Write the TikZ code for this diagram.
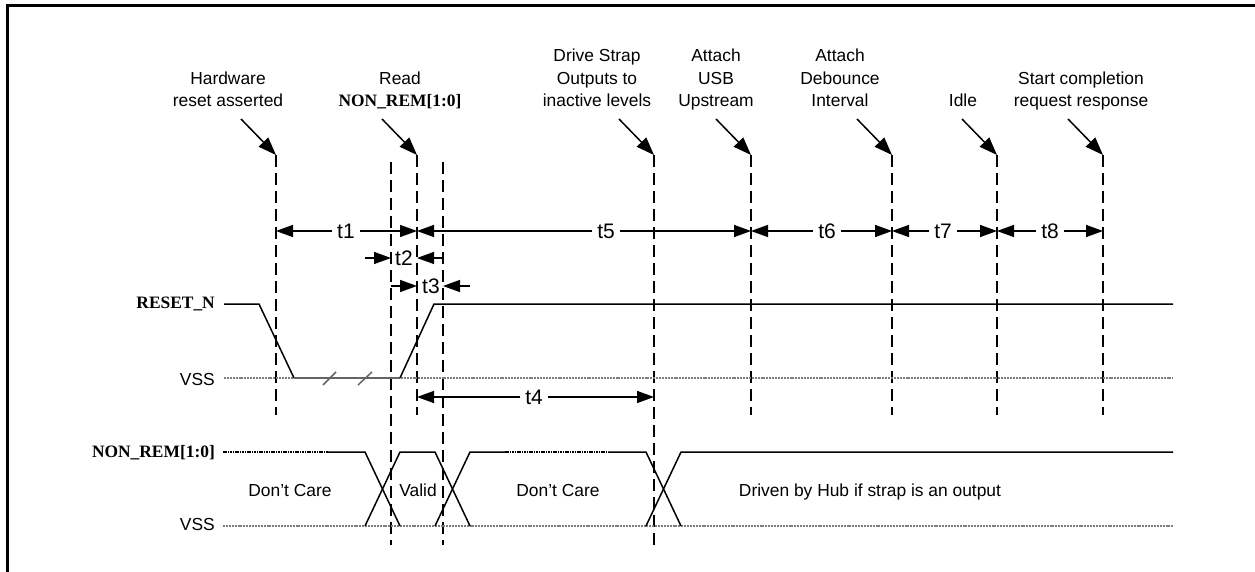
\documentclass[tikz,border=0pt]{standalone}
\usepackage{fontspec}
\setmainfont{Liberation Sans}
\newfontfamily\tnr{Liberation Serif}
\usetikzlibrary{arrows.meta,calc}
\definecolor{vssgray}{RGB}{125,125,125}
\definecolor{lowgray}{RGB}{100,100,100}
\begin{document}
\begin{tikzpicture}[x=1pt,y=-1pt,
  font=\fontsize{17.4}{22.5}\selectfont,
  frame/.style={line width=3pt},
  vdash/.style={line width=2.6pt,dash pattern=on 12pt off 6pt},
  sig/.style={line width=1.5pt},
  vssline/.style={line width=2.6pt,vssgray,dash pattern=on 2pt off 0.9pt},
  dcline/.style={line width=1.9pt,dash pattern=on 1.6pt off 0.8pt},
  tarr/.style={line width=1.5pt,-{Triangle[length=17pt,width=12pt]}},
  callout/.style={line width=1.5pt,-{Triangle[length=18pt,width=13pt]}},
  lbl/.style={align=center,inner sep=0pt,anchor=base},
  tlab/.style={font=\fontsize{21}{22}\selectfont,inner ysep=0pt,inner xsep=5pt},
  sname/.style={font=\tnr\bfseries\fontsize{17.4}{20}\selectfont,anchor=base east,inner sep=0pt},
  vname/.style={anchor=base east,inner sep=0pt},
  wlab/.style={anchor=base,inner sep=0pt},
  brk/.style={line width=1.5pt,lowgray}
]
\useasboundingbox (0,0) rectangle (1255,572);
% frame
\coordinate (fr1) at (1255,6);
\coordinate (fr2) at (7.5,6);
\coordinate (fr3) at (7.5,572);
\draw[frame] (fr1) -- (fr2) -- (fr3);

% vertical dashed event lines
\coordinate (L1t) at (276,155); \coordinate (L1b) at (276,415);
\coordinate (L2t) at (391,162); \coordinate (L2b) at (391,545);
\coordinate (L3t) at (417,155); \coordinate (L3b) at (417,415);
\coordinate (L4t) at (443,162); \coordinate (L4b) at (443,545);
\coordinate (L5t) at (654,155); \coordinate (L5b) at (654,545);
\coordinate (L6t) at (751,155); \coordinate (L6b) at (751,415);
\coordinate (L7t) at (892,155); \coordinate (L7b) at (892,415);
\coordinate (L8t) at (997,155); \coordinate (L8b) at (997,415);
\coordinate (L9t) at (1103,155); \coordinate (L9b) at (1103,415);
\foreach \i in {1,...,9} {\draw[vdash] (L\i t) -- (L\i b);}

% top labels (anchor = baseline of last line)
\node[lbl] (lab1) at (228,107) {Hardware\\reset asserted};
\node[lbl] (lab3) at (400,107) {Read\\{\tnr\bfseries NON\_REM[1:0]}};
\node[lbl] (lab5) at (597,107) {Drive Strap\\Outputs to\\inactive levels};
\node[lbl] (lab6) at (716,107) {Attach\\USB\\Upstream};
\node[lbl] (lab7) at (840,107) {Attach\\Debounce\\Interval};
\node[lbl] (lab8) at (963,107) {Idle};
\node[lbl] (lab9) at (1081,107) {Start completion\\request response};

% callout arrows
\foreach \i in {1,3,5,6,7,8,9} {
  \coordinate (c\i) at ($(L\i t)+(-35,-36)$);
  \draw[callout] (c\i) -- (L\i t);
}

% timing intervals
\node[tlab] (t1) at (346,231) {t1};
\draw[tarr] (t1.west) -- (t1.west -| L1t);
\draw[tarr] (t1.east) -- (t1.east -| L3t);
\node[tlab] (t5) at (606,231) {t5};
\draw[tarr] (t5.west) -- (t5.west -| L3t);
\draw[tarr] (t5.east) -- (t5.east -| L6t);
\node[tlab] (t6) at (827,231) {t6};
\draw[tarr] (t6.west) -- (t6.west -| L6t);
\draw[tarr] (t6.east) -- (t6.east -| L7t);
\node[tlab] (t7) at (943,231) {t7};
\draw[tarr] (t7.west) -- (t7.west -| L7t);
\draw[tarr] (t7.east) -- (t7.east -| L8t);
\node[tlab] (t8) at (1050,231) {t8};
\draw[tarr] (t8.west) -- (t8.west -| L8t);
\draw[tarr] (t8.east) -- (t8.east -| L9t);

\node[tlab,inner xsep=0pt] (t2) at (404,258) {t2};
\coordinate (t2s) at (365,258);
\draw[tarr] (t2s) -- (L2t |- t2);
\draw[tarr] (L4t |- t2) -- (L3t |- t2);

\node[tlab,inner xsep=0pt] (t3) at (431,286) {t3};
\coordinate (t3s) at (470,286);
\draw[tarr] (L2t |- t3) -- (L3t |- t3);
\draw[tarr] (t3s) -- (L4t |- t3);

\node[tlab] (t4) at (534,397) {t4};
\draw[tarr] (t4.west) -- (t4.west -| L3t);
\draw[tarr] (t4.east) -- (t4.east -| L5t);

% RESET_N signal
\node[sname] (rn) at (215,308) {RESET\_N};
\node[vname] (vss1) at (215,385) {VSS};
\coordinate (v1a) at (224,378); \coordinate (v1b) at (1173,378);
\draw[vssline] (v1a) -- (v1b);
\coordinate (r0) at (224,304); \coordinate (r1) at (259,304);
\coordinate (r2) at (294,378); \coordinate (r3) at (400,378);
\coordinate (r4) at (434,304); \coordinate (r5) at (1173,304);
\draw[sig] (r0) -- (r1) -- (r2);
\draw[brk] (r2) -- (r3);
\draw[sig] (r3) -- (r4) -- (r5);
\coordinate (b1a) at (323,385); \coordinate (b1b) at (336,372);
\coordinate (b2a) at (358,385); \coordinate (b2b) at (372,372);
\draw[brk] (b1a) -- (b1b);
\draw[brk] (b2a) -- (b2b);

% NON_REM signal
\node[sname] (nr) at (215,457) {NON\_REM[1:0]};
\node[vname] (vss2) at (215,530) {VSS};
\coordinate (v2a) at (223,526); \coordinate (v2b) at (1173,526);
\draw[vssline] (v2a) -- (v2b);
\coordinate (n0) at (223,452); \coordinate (n1) at (328,452);
\coordinate (n2) at (365,452); \coordinate (n2b) at (365,526);
\coordinate (n3) at (400,452); \coordinate (n3b) at (400,526);
\coordinate (n4) at (435,452); \coordinate (n4b) at (435,526);
\coordinate (n5) at (470,452); \coordinate (n5b) at (470,526);
\coordinate (n6) at (505,452); \coordinate (n7) at (608,452);
\coordinate (n8) at (646,452); \coordinate (n8b) at (646,526);
\coordinate (n9) at (681,452); \coordinate (n9b) at (681,526);
\coordinate (n10) at (1173,452);
\draw[dcline] (n0) -- (n1);
\draw[sig] (n1) -- (n2) -- (n3b);
\draw[sig] (n2b) -- (n3) -- (n4) -- (n5b);
\draw[sig] (n4b) -- (n5) -- (n6);
\draw[dcline] (n6) -- (n7);
\draw[sig] (n7) -- (n8) -- (n9b);
\draw[sig] (n8b) -- (n9) -- (n10);

\node[wlab] (dc1) at (290,496) {Don’t Care};
\node[wlab] (val) at (418,496) {Valid};
\node[wlab] (dc2) at (558,496) {Don’t Care};
\node[wlab] (drv) at (870,496) {Driven by Hub if strap is an output};
\end{tikzpicture}
\end{document}
